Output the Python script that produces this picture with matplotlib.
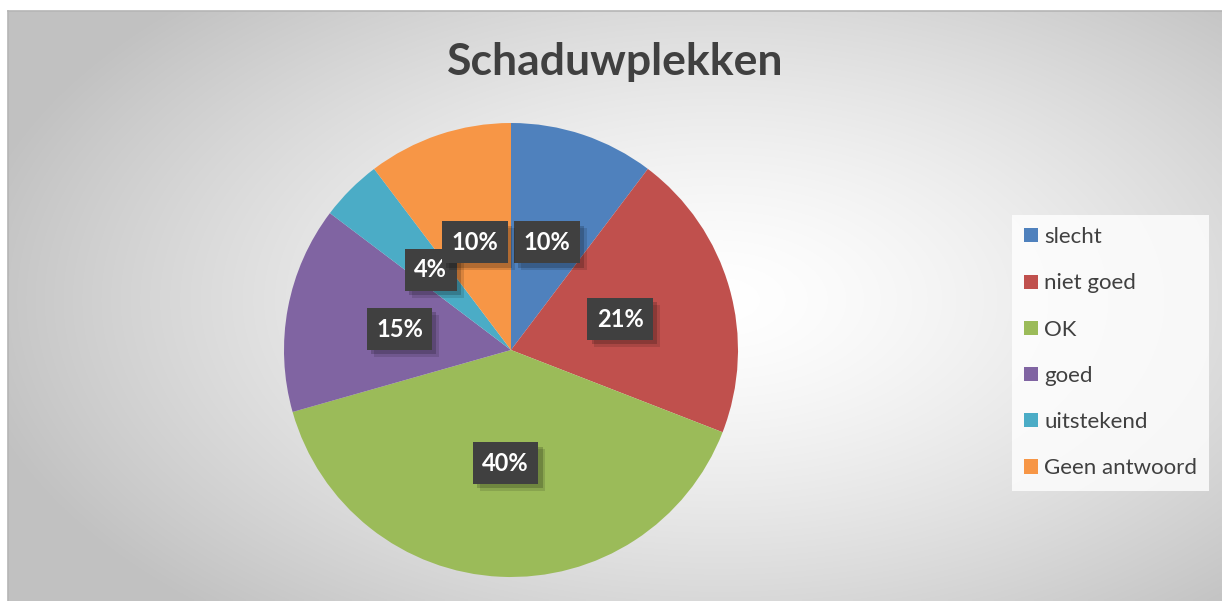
import numpy as np
import matplotlib
matplotlib.use("Agg")
import matplotlib.pyplot as plt
import matplotlib.patheffects as pe

categories = ["slecht", "niet goed", "OK", "goed", "uitstekend", "Geen antwoord"]
values = [10.3, 20.6, 39.7, 14.7, 4.4, 10.3]
colors = ["#4F81BD", "#C0504D", "#9BBB59", "#8064A2", "#4BACC6", "#F79646"]
title = "Schaduwplekken"

W, H = 1222, 601
fig = plt.figure(figsize=(W / 100, H / 100), dpi=100)
fig.patch.set_facecolor("white")

# background chart area with radial gradient
x0, y0top = 8, 11
bg = fig.add_axes([x0 / W, 0, (W - x0) / W, (H - y0top) / H])
bg.set_axis_off()
nx, ny = 400, 200
xs = np.linspace(x0, W, nx)
ys = np.linspace(y0top, H, ny)
X, Y = np.meshgrid(xs, ys)
cx, cy = 720, 300
d = np.sqrt(((X - cx) / 760) ** 2 + ((Y - cy) / 420) ** 2)
d = np.clip(d, 0, 1)
g = 1.0 - 0.24 * d ** 1.4
img = np.dstack([g, g, g])
bg.imshow(img, extent=[0, 1, 0, 1], aspect="auto", origin="upper", interpolation="bilinear")
bg.set_xlim(0, 1)
bg.set_ylim(0, 1)
bg.plot([0, 0], [0, 1], color="#b5b5b5", lw=1.2, transform=bg.transAxes, clip_on=False)
bg.plot([0, 1], [1, 1], color="#b5b5b5", lw=1.2, transform=bg.transAxes, clip_on=False)

# pie
pcx, pcy, r = 511, 350, 227
ax = fig.add_axes([(pcx - r) / W, (H - pcy - r) / H, 2 * r / W, 2 * r / H])
ax.set_axis_off()
wedges, texts, autotexts = ax.pie(
    values, colors=colors, startangle=90, counterclock=False,
    autopct=lambda p: f"{p:.0f}%", pctdistance=0.5,
    wedgeprops=dict(linewidth=0),
)
ax.set_xlim(-1, 1)
ax.set_ylim(-1, 1)
ax.set_aspect("equal")

for t in autotexts:
    t.set_color("white")
    t.set_fontsize(17)
    t.set_fontweight("bold")
    t.set_fontfamily("Lato")
    t.set_bbox(dict(boxstyle="square,pad=0.4", fc="#404040", lw=0))
    t.get_bbox_patch().set_path_effects([
        pe.SimplePatchShadow(offset=(5, -5), shadow_rgbFace="black", alpha=0.12),
        pe.SimplePatchShadow(offset=(3, -3), shadow_rgbFace="black", alpha=0.18),
        pe.Normal()])

# title
fig.text(615 / W, 1 - 62 / H, title, ha="center", va="center",
         fontsize=32, fontweight="bold", color="#404040", fontfamily="Lato")

# legend
leg = fig.legend(wedges, categories, loc="upper left",
                 bbox_to_anchor=(1012 / W, 1 - 215 / H),
                 prop=dict(family="Lato", size=16),
                 labelcolor="#404040", frameon=True, fancybox=False,
                 handlelength=0.6, handleheight=0.6, handletextpad=0.3,
                 labelspacing=1.18, borderpad=0.55, borderaxespad=0)
leg.get_frame().set_facecolor((1, 1, 1, 0.3))
leg.get_frame().set_linewidth(0)

fig.savefig("out.png", dpi=100)
